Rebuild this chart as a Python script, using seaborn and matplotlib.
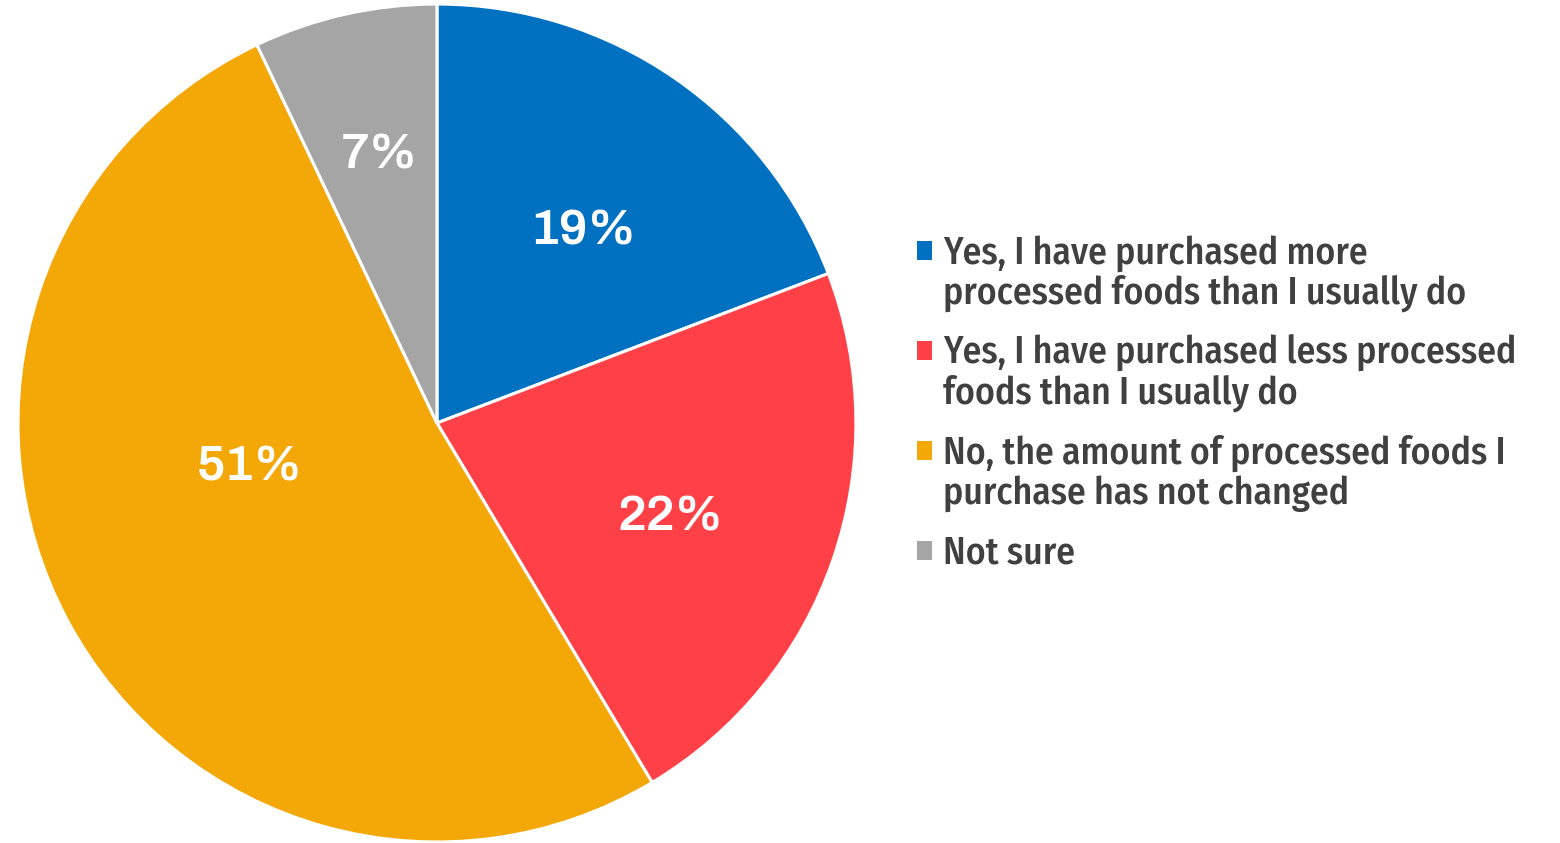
import matplotlib
matplotlib.use("Agg")
import matplotlib.pyplot as plt
from matplotlib.font_manager import FontProperties
import numpy as np
import seaborn as sns

# Survey answers and shares (%)
categories = [
    "Yes, I have purchased more\nprocessed foods than I usually do",
    "Yes, I have purchased less processed\nfoods than I usually do",
    "No, the amount of processed foods I\npurchase has not changed",
    "Not sure",
]
shares = [19, 22, 51, 7]
slice_colors = ["#0070C0", "#FF4046", "#F4A807", "#A5A5A5"]

LEG_FAMILY = ["Fira Sans Condensed", "Roboto Condensed", "DejaVu Sans"]
sns.set_theme(style="white")
plt.rcParams["font.family"] = LEG_FAMILY

DPI = 100
W_PX, H_PX = 1560, 843
fig = plt.figure(figsize=(W_PX / DPI, H_PX / DPI), dpi=DPI)
fig.patch.set_facecolor("white")
ax = fig.add_axes([0.0115, 0.0012, 0.5372, 0.994])

wedges, _ = ax.pie(
    shares,
    colors=slice_colors,
    startangle=90,
    counterclock=False,
    radius=1.0,
    wedgeprops=dict(edgecolor="white", linewidth=2.2),
)
ax.set_xlim(-1, 1)
ax.set_ylim(-1, 1)
ax.set_aspect("equal")
ax.axis("off")

# value labels inside each wedge: radial distance and angular nudge (deg, clockwise)
label_radius = [0.575, 0.60, 0.46, 0.655]
label_nudge = [2.7, 2.8, 15.0, 0.7]
for w, val, r, dn in zip(wedges, shares, label_radius, label_nudge):
    ang = np.deg2rad((w.theta1 + w.theta2) / 2 - dn)
    ax.text(r * np.cos(ang), r * np.sin(ang), f"{val}%",
            ha="center", va="center", color="white",
            fontsize=36, fontweight=600, family=["Archivo", "DejaVu Sans"])

# ---- legend ----
LEG_FS = 27
FS_PX = LEG_FS * DPI / 72
LINE_STEP_PX = 40      # distance between wrapped lines
ENTRY_STEP_PX = 100    # distance between legend entries
TEXT_LEFT_PX = 943     # left edge of legend text
TEXT_TOP_PX = 235      # top of first legend entry (from top of image)
leg_prop = FontProperties(family=LEG_FAMILY, weight=500, size=LEG_FS)
renderer = fig.canvas.get_renderer()
state = {"ls": 1.2, "anchor": (0.588, 0.728)}


def build_legend(labelspacing):
    old = fig.legends[:]
    for lg in old:
        lg.remove()
    lg = fig.legend(
        wedges, categories,
        loc="upper left",
        bbox_to_anchor=state["anchor"],
        frameon=False,
        labelcolor="#404040",
        handlelength=0.40,
        handleheight=0.40,
        handletextpad=0.30,
        labelspacing=labelspacing,
        borderpad=0,
        borderaxespad=0,
        prop=leg_prop,
    )
    for t in lg.get_texts():
        t.set_linespacing(state["ls"])
    for h in lg.legend_handles:
        h.set_edgecolor("none")
    return lg


leg = build_legend(0.5)

# tune line spacing of wrapped labels
for _ in range(4):
    fig.canvas.draw()
    texts = leg.get_texts()
    step = texts[0].get_window_extent(renderer).height - texts[3].get_window_extent(renderer).height
    if step > 0:
        state["ls"] *= LINE_STEP_PX / step
    for t in texts:
        t.set_linespacing(state["ls"])

# spacing between entries
fig.canvas.draw()
h0 = leg.get_texts()[0].get_window_extent(renderer).height
leg = build_legend(max(ENTRY_STEP_PX - h0, 0) / FS_PX)

# place legend so the text starts where intended
fig.canvas.draw()
bb = leg.get_texts()[0].get_window_extent(renderer)
ax_x, ax_y = state["anchor"]
state["anchor"] = (ax_x + (TEXT_LEFT_PX - bb.x0) / W_PX,
                   ax_y + ((H_PX - TEXT_TOP_PX) - bb.y1) / H_PX)
leg.set_bbox_to_anchor(state["anchor"], transform=fig.transFigure)

# sit each swatch beside the first line of its label
fig.canvas.draw()
texts = leg.get_texts()
handles = leg.legend_handles
ref_t = texts[3].get_window_extent(renderer)
ref_h = handles[3].get_window_extent(renderer)
offset = ref_t.y1 - (ref_h.y0 + ref_h.y1) / 2
for t, h in zip(texts[:3], handles[:3]):
    tb = t.get_window_extent(renderer)
    hb = h.get_window_extent(renderer)
    target = tb.y1 - offset
    h.set_y(h.get_y() + (target - (hb.y0 + hb.y1) / 2) * 72 / DPI)

fig.savefig("out.png", dpi=DPI, facecolor="white")
